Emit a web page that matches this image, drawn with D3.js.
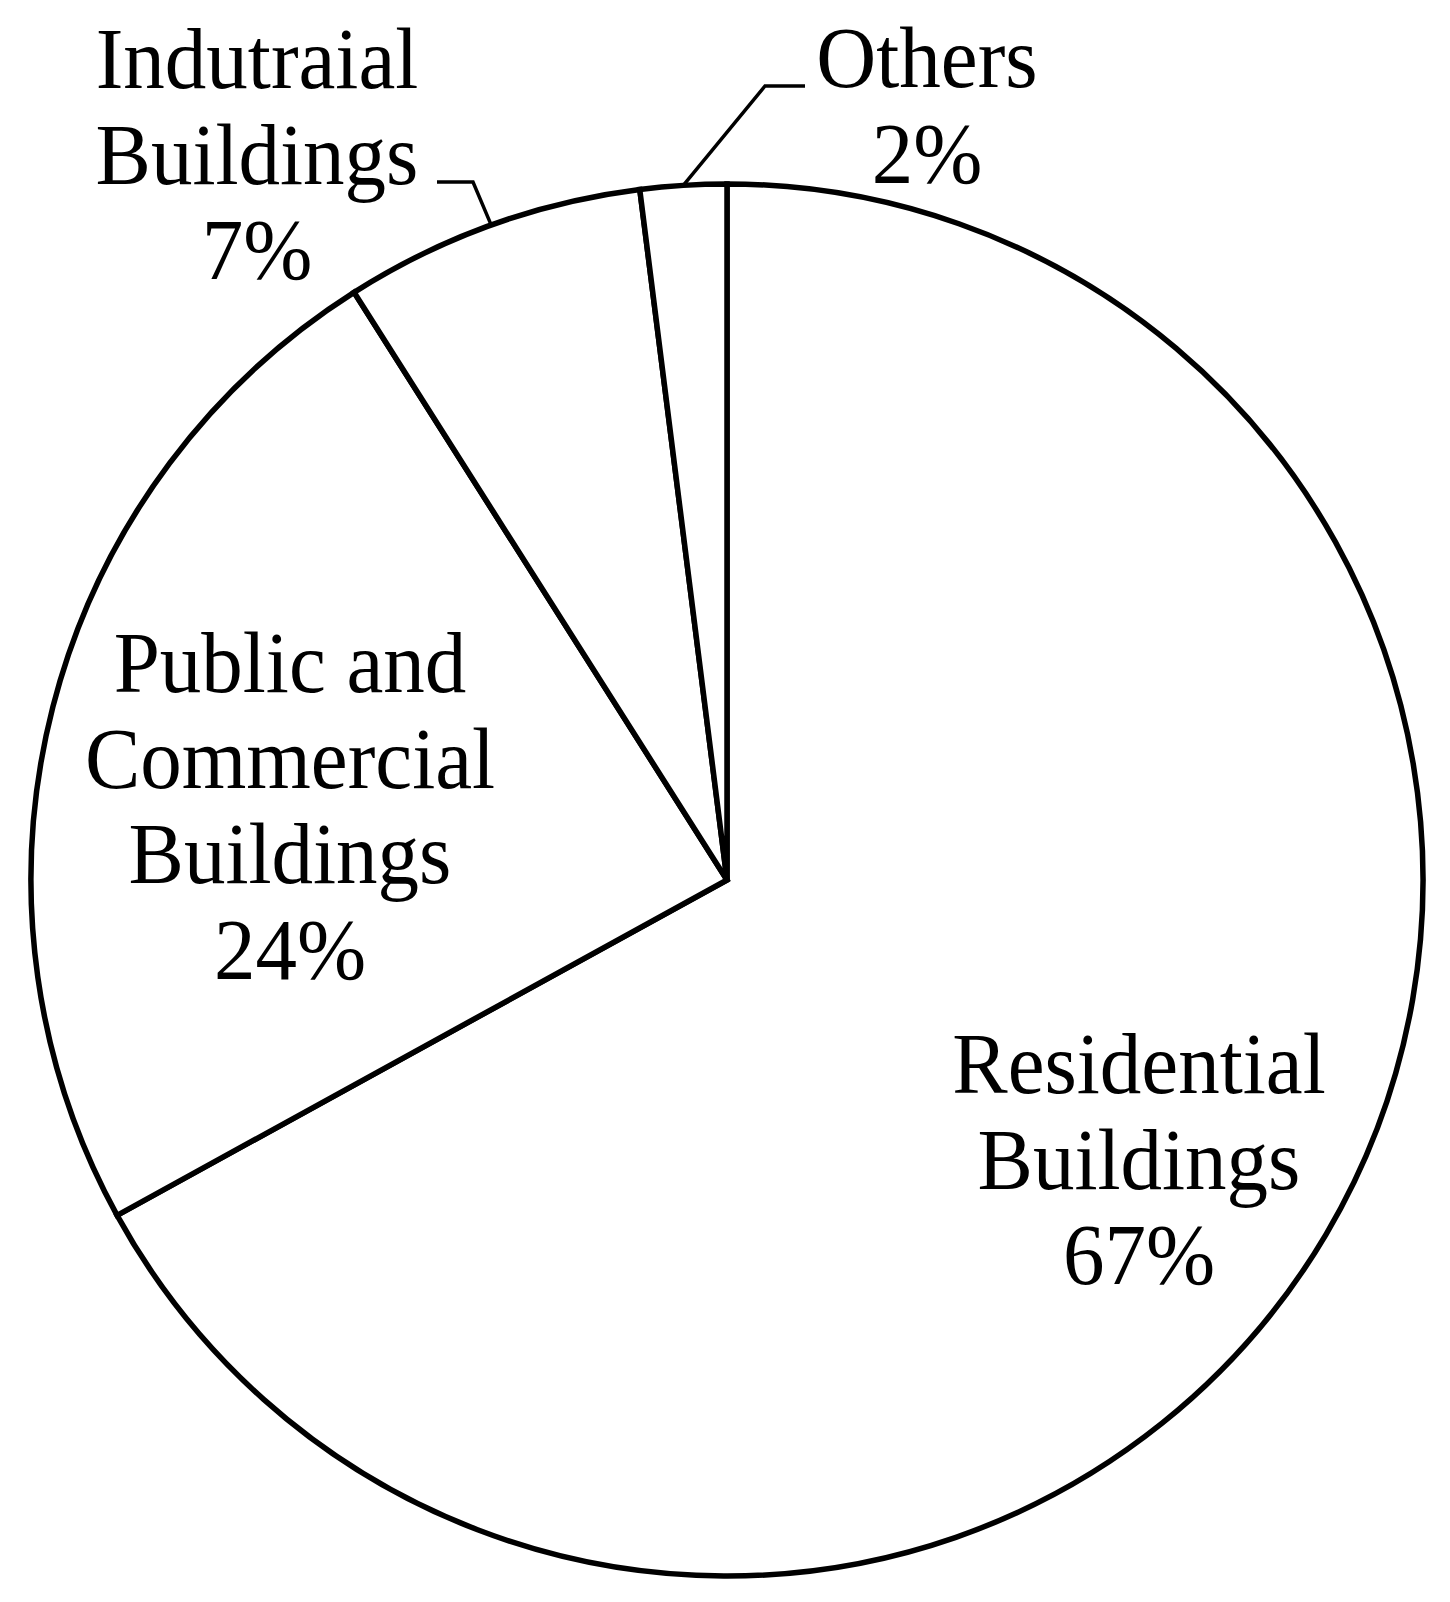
<!DOCTYPE html>
<html>
<head>
<meta charset="utf-8">
<script src="https://cdn.jsdelivr.net/npm/d3@7"></script>
<style>
  html, body { margin: 0; padding: 0; background: #fff; }
  svg { display: block; }
</style>
</head>
<body>
<div id="chart"></div>
<script>
// data
var categories = ["Residential Buildings", "Public and Commercial Buildings", "Indutraial Buildings", "Others"];
var labelLines = [["Residential", "Buildings"], ["Public and", "Commercial", "Buildings"], ["Indutraial", "Buildings"], ["Others"]];
var shares = [67, 24, 7, 2];

var width = 1450;
var height = 1602;
var cx = 727, cy = 880, radius = 696;
var fontSize = 83;
var lineH = 95.5;

// label layout: centre x and first baseline, plus optional leader elbow/end
var labelLayout = [
    { x: 1139, y: 1093 },
    { x: 290, y: 692 },
    { x: 257, y: 88, elbow: [473, 182], end: [437, 182] },
    { x: 927, y: 87, elbow: [765, 86], end: [805, 86] }
];

var svg = d3.select("#chart").append("svg")
    .attr("width", width)
    .attr("height", height);

var pie = d3.pie().sort(null).value(function(d) { return d; });
var arcs = pie(shares);

var arc = d3.arc().innerRadius(0).outerRadius(radius);
var rim = d3.arc().innerRadius(radius).outerRadius(radius);

var g = svg.append("g").attr("transform", "translate(" + cx + "," + cy + ")");

g.selectAll("path.slice")
    .data(arcs)
    .enter().append("path")
    .attr("class", "slice")
    .attr("d", arc)
    .attr("fill", "#fff")
    .attr("stroke", "#000")
    .attr("stroke-width", 5.5)
    .attr("stroke-linejoin", "miter");

// leader lines (only the small slices have them)
arcs.forEach(function(a, i) {
    var lay = labelLayout[i];
    if (!lay.elbow) return;
    var p = rim.centroid(a);
    var pts = [[p[0] + cx, p[1] + cy], lay.elbow, lay.end];
    svg.append("path")
        .attr("d", d3.line()(pts))
        .attr("fill", "none")
        .attr("stroke", "#000")
        .attr("stroke-width", 3.5);
});

// labels
arcs.forEach(function(a, i) {
    var lay = labelLayout[i];
    var lines = labelLines[i].concat([shares[i] + "%"]);
    lines.forEach(function(t, k) {
        svg.append("text")
            .attr("transform", "translate(" + lay.x + "," + (lay.y + k * lineH) + ") scale(1,1.05)")
            .attr("text-anchor", "middle")
            .attr("font-family", "'Liberation Serif', 'Times New Roman', serif")
            .attr("font-size", fontSize)
            .attr("fill", "#000")
            .text(t);
    });
});
</script>
</body>
</html>
